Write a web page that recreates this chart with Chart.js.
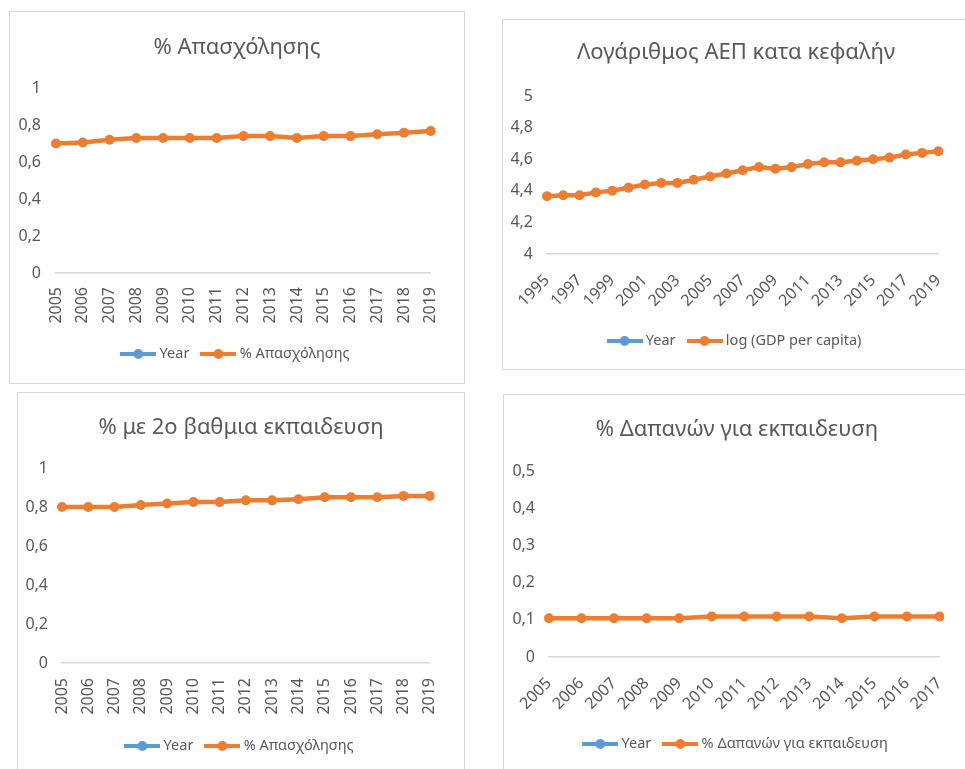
<!DOCTYPE html>
<html>
<head>
<meta charset="utf-8">
<script src="https://cdn.jsdelivr.net/npm/chart.js@4.4.1/dist/chart.umd.min.js"></script>
<style>
  html, body { margin: 0; padding: 0; background: #fff; }
  body { width: 965px; height: 769px; overflow: hidden; position: relative; }
  .box { position: absolute; border: 1px solid #d9d9d9; box-sizing: border-box; background: #fff; }
  .box canvas { position: absolute; left: 0; top: 0; }
</style>
</head>
<body>
<div class="box" style="left:9px;top:11px;width:456px;height:373px"><canvas id="empChart" width="454" height="371"></canvas></div>
<div class="box" style="left:502px;top:19px;width:468px;height:351px"><canvas id="gdpChart" width="466" height="349"></canvas></div>
<div class="box" style="left:17px;top:392px;width:448px;height:385px"><canvas id="eduChart" width="446" height="383"></canvas></div>
<div class="box" style="left:503px;top:394px;width:468px;height:385px"><canvas id="spendChart" width="466" height="383"></canvas></div>

<script>
// data
const years0519 = ['2005','2006','2007','2008','2009','2010','2011','2012','2013','2014','2015','2016','2017','2018','2019'];
const employment = [0.70, 0.705, 0.72, 0.73, 0.73, 0.73, 0.73, 0.74, 0.74, 0.73, 0.74, 0.74, 0.75, 0.758, 0.768];

const years9519 = ['1995','1996','1997','1998','1999','2000','2001','2002','2003','2004','2005','2006','2007',
                   '2008','2009','2010','2011','2012','2013','2014','2015','2016','2017','2018','2019'];
const logGdp = [4.365, 4.372, 4.372, 4.39, 4.40, 4.42, 4.44, 4.45, 4.45, 4.47, 4.49, 4.51, 4.53,
                4.55, 4.54, 4.55, 4.57, 4.58, 4.58, 4.59, 4.60, 4.61, 4.63, 4.64, 4.65];

const secondaryEdu = [0.80, 0.80, 0.80, 0.81, 0.818, 0.826, 0.826, 0.834, 0.834, 0.84, 0.85, 0.85, 0.85, 0.857, 0.857];

const years0517 = ['2005','2006','2007','2008','2009','2010','2011','2012','2013','2014','2015','2016','2017'];
const eduSpending = [0.104, 0.104, 0.104, 0.104, 0.104, 0.109, 0.109, 0.109, 0.109, 0.104, 0.109, 0.109, 0.109];

const BLUE = '#5B9BD5';
const ORANGE = '#ED7D31';
const TEXT = '#595959';
const AXIS = '#d9d9d9';
const FONT = '"Noto Sans", "DejaVu Sans", sans-serif';

Chart.defaults.font.family = FONT;

// small line + dot picture used as legend marker
function legendIcon(color) {
  const c = document.createElement('canvas');
  c.width = 36;
  c.height = 12;
  const g = c.getContext('2d');
  g.strokeStyle = color;
  g.lineWidth = 4;
  g.beginPath();
  g.moveTo(0, 6);
  g.lineTo(36, 6);
  g.stroke();
  g.fillStyle = color;
  g.beginPath();
  g.arc(18, 6, 5, 0, Math.PI * 2);
  g.fill();
  return c;
}

function buildChart(id, o) {
  const canvas = document.getElementById(id);
  const W = canvas.width, H = canvas.height;
  const a = o.area;
  const titleSize = 22, titleLH = titleSize * 1.2;
  const legendSize = 14.5, legendPad = 15;
  const legendTop = o.legendY - legendPad - legendSize / 2;
  const legendBottom = legendTop + legendSize + legendPad + 10;

  return new Chart(canvas, {
    type: 'line',
    data: {
      labels: o.labels,
      datasets: [
        { label: 'Year', data: [], borderColor: BLUE, backgroundColor: BLUE },
        {
          label: o.seriesLabel,
          data: o.values,
          borderColor: ORANGE,
          backgroundColor: ORANGE,
          borderWidth: 4.5,
          pointRadius: 5,
          pointBorderWidth: 0,
          tension: 0
        }
      ]
    },
    options: {
      responsive: false,
      animation: false,
      layout: { padding: { left: 0, right: 0, top: 0, bottom: H - legendBottom } },
      plugins: {
        title: {
          display: true,
          text: o.title,
          color: TEXT,
          font: { size: titleSize, weight: 'normal', lineHeight: 1.2 },
          padding: { top: o.titleY - titleLH / 2, bottom: a.top - o.titleY - titleLH / 2 }
        },
        legend: {
          position: 'bottom',
          labels: {
            usePointStyle: true,
            pointStyleWidth: 28,
            padding: legendPad,
            color: TEXT,
            font: { size: legendSize },
            generateLabels: chart => chart.data.datasets.map((ds, i) => ({
              text: ds.label,
              fillStyle: ds.borderColor,
              strokeStyle: ds.borderColor,
              lineWidth: 0,
              pointStyle: legendIcon(ds.borderColor),
              hidden: false,
              datasetIndex: i,
              fontColor: TEXT
            }))
          }
        },
        tooltip: { enabled: false }
      },
      scales: {
        x: {
          grid: { display: false, drawTicks: false },
          border: { display: true, color: AXIS, width: 1.5 },
          ticks: {
            color: TEXT,
            font: { size: 16 },
            padding: o.xPad,
            minRotation: o.rotation,
            maxRotation: o.rotation,
            autoSkip: false,
            callback: function (val, i) {
              return i % o.tickEvery === 0 ? this.getLabelForValue(val) : '';
            }
          },
          afterFit: s => { s.height = legendTop - a.bottom; }
        },
        y: {
          min: o.yMin,
          max: o.yMax,
          grid: { display: false, drawTicks: false },
          border: { display: false },
          ticks: {
            stepSize: o.yStep,
            color: TEXT,
            font: { size: 16 },
            padding: o.yPad,
            callback: v => String(Math.round(v * 10) / 10).replace('.', ',')
          },
          afterFit: s => { s.width = a.left; }
        },
        // empty right axis only to keep the right margin
        yRight: {
          position: 'right',
          grid: { display: false, drawTicks: false },
          border: { display: false },
          ticks: { display: false },
          afterFit: s => { s.width = W - a.right; }
        }
      }
    }
  });
}

buildChart('empChart', {
  labels: years0519, values: employment, seriesLabel: '% Απασχόλησης',
  title: '% Απασχόλησης',
  yMin: 0, yMax: 1, yStep: 0.2, rotation: 90, tickEvery: 1, xPad: 14, yPad: 15,
  area: { left: 46, right: 436, top: 76, bottom: 261 }, titleY: 36, legendY: 342
});

buildChart('gdpChart', {
  labels: years9519, values: logGdp, seriesLabel: 'log (GDP per capita)',
  title: 'Λογάριθμος ΑΕΠ κατα κεφαλήν',
  yMin: 4, yMax: 5, yStep: 0.2, rotation: 45, tickEvery: 2, xPad: 17, yPad: 14,
  area: { left: 44, right: 447, top: 76, bottom: 234 }, titleY: 33, legendY: 321
});

buildChart('eduChart', {
  labels: years0519, values: secondaryEdu, seriesLabel: '% Απασχόλησης',
  title: '% με 2ο βαθμια εκπαιδευση',
  yMin: 0, yMax: 1, yStep: 0.2, rotation: 90, tickEvery: 1, xPad: 15, yPad: 14,
  area: { left: 44, right: 428, top: 75, bottom: 270 }, titleY: 35, legendY: 353
});

buildChart('spendChart', {
  labels: years0517, values: eduSpending, seriesLabel: '% Δαπανών για εκπαιδευση',
  title: '% Δαπανών για εκπαιδευση',
  yMin: 0, yMax: 0.5, yStep: 0.1, rotation: 45, tickEvery: 1, xPad: 17, yPad: 14,
  area: { left: 45, right: 444, top: 76, bottom: 262 }, titleY: 35, legendY: 349
});
</script>
</body>
</html>
